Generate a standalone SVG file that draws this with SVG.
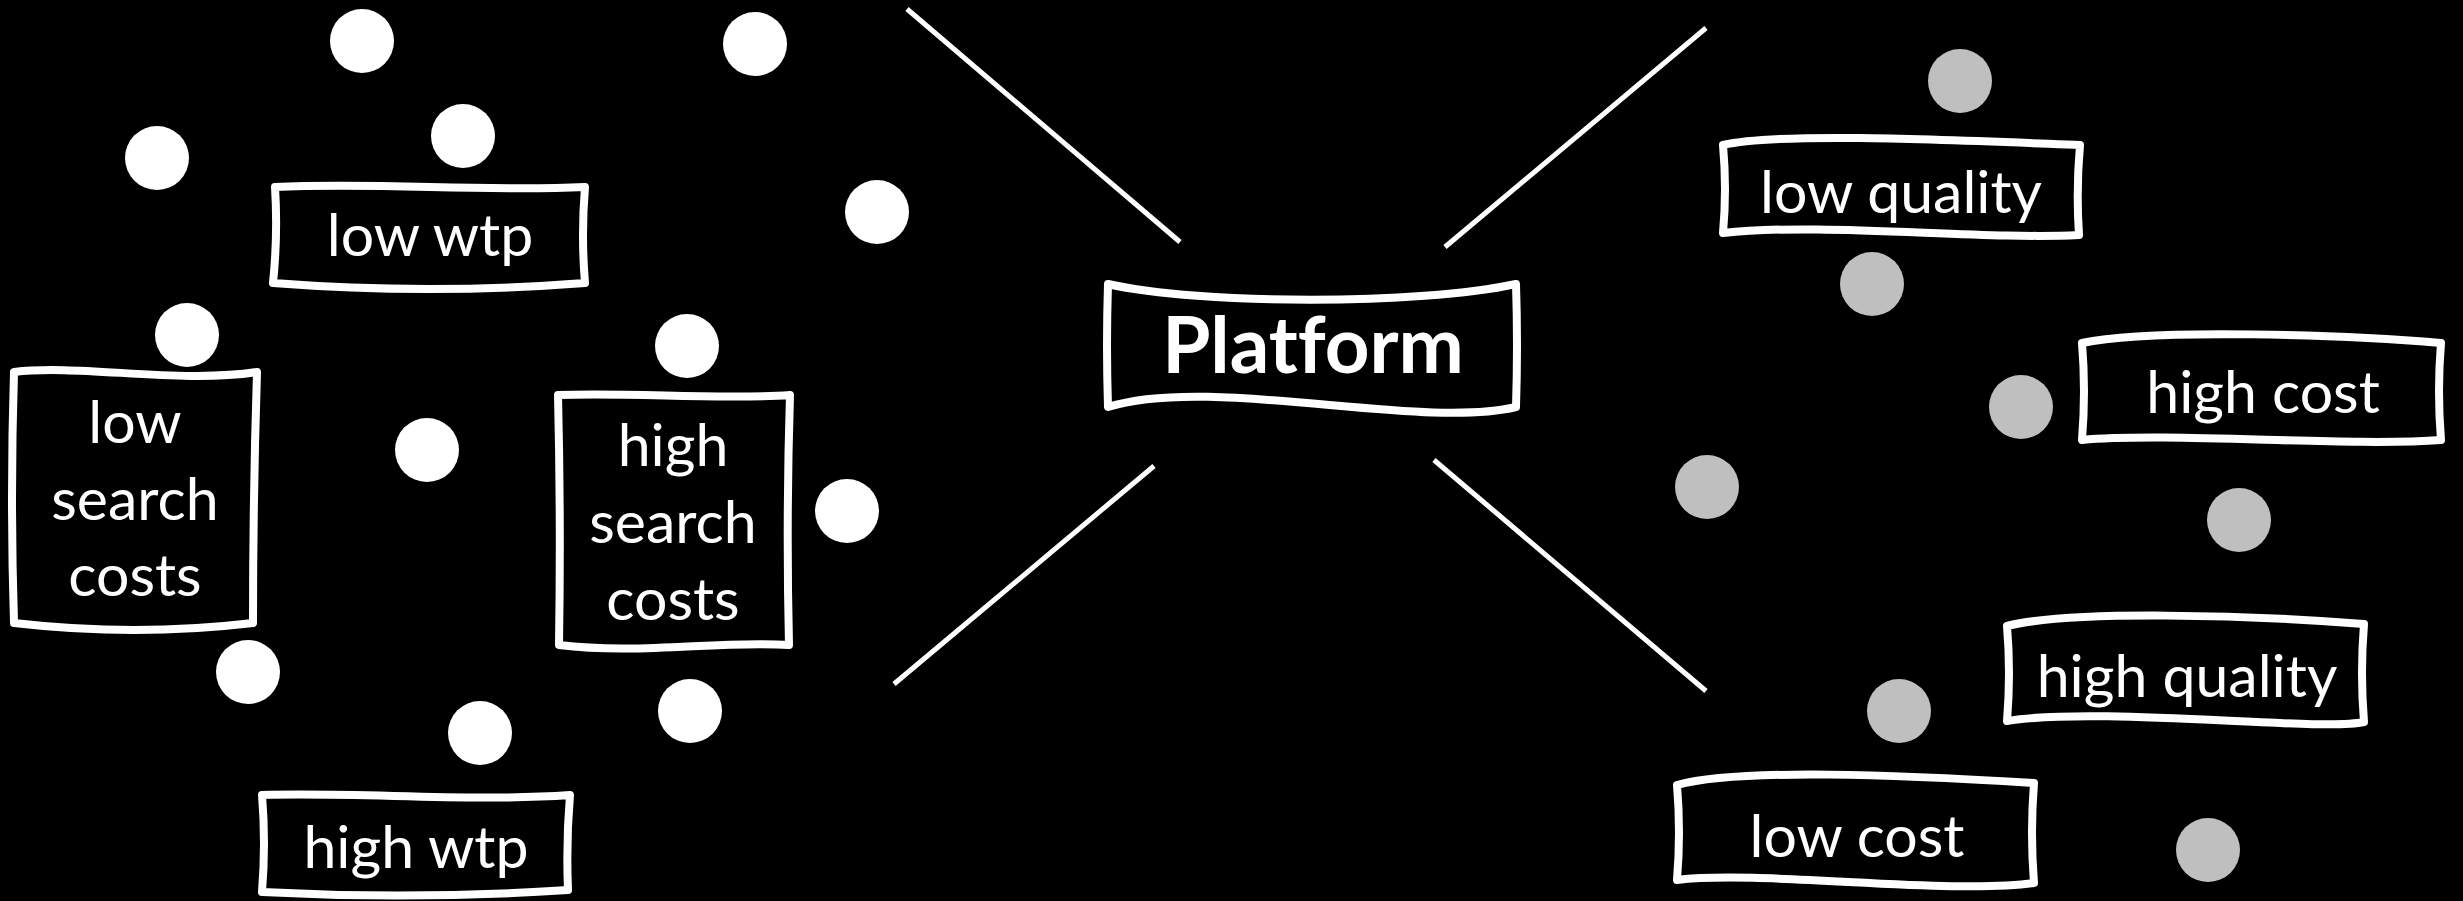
<svg xmlns="http://www.w3.org/2000/svg" width="2463" height="901" viewBox="0 0 2463 901">
<style>
.bg{fill:#000}
.box{fill:#000;stroke:#fff;stroke-width:8;stroke-linejoin:round}
.lbl{fill:#fff;font-family:Lato,"Open Sans","Liberation Sans",sans-serif;font-size:59px;text-anchor:middle;font-variant-ligatures:none}
.title{fill:#fff;font-family:Lato,"Open Sans","Liberation Sans",sans-serif;font-size:78px;font-weight:700;text-anchor:middle;font-variant-ligatures:none;font-feature-settings:"liga" 0,"dlig" 0}
.w{fill:#fff}
.g{fill:#bfbfbf}
.con{stroke:#fff;stroke-width:5;fill:none}
</style>
<rect class="bg" x="0" y="0" width="2463" height="901"/>
<g id="connectors">
<line class="con" x1="907" y1="9" x2="1180" y2="242"/>
<line class="con" x1="1706" y1="28" x2="1445" y2="247"/>
<line class="con" x1="1154" y1="466" x2="894" y2="684"/>
<line class="con" x1="1434" y1="460" x2="1706" y2="691"/>
</g>
<g id="platform">
<path class="box" d="M1108,284 C1200,305 1420,305 1516,284 Q1518,345 1516,407 C1420,430 1210,375 1108,407 Q1106,345 1108,284 Z"/>
<text class="title" x="1313" y="373">Platform</text>
</g>
<g id="low-wtp">
<path class="box" d="M275,187 C380,182 480,192 585,187 Q581,235 585,283 Q429,295 273,283 Q278,235 275,187 Z"/>
<text class="lbl" x="430" y="256">low wtp</text>
</g>
<g id="low-search-costs">
<path class="box" d="M14,372 C80,364 180,384 257,372 Q253,498 253,623 Q135,637 14,623 Q10,498 14,372 Z"/>
<text class="lbl" x="135" y="443">low</text>
<text class="lbl" x="135" y="520">search</text>
<text class="lbl" x="135" y="596">costs</text>
</g>
<g id="high-search-costs">
<path class="box" d="M558,395 C630,392 720,400 790,395 Q786,520 789,645 C720,640 640,655 559,645 Q561,520 558,395 Z"/>
<text class="lbl" x="673" y="466">high</text>
<text class="lbl" x="673" y="543">search</text>
<text class="lbl" x="673" y="620">costs</text>
</g>
<g id="high-wtp">
<path class="box" d="M262,795 C360,792 470,802 570,795 Q566,842 568,890 Q415,900 262,892 Q266,843 262,795 Z"/>
<text class="lbl" x="416" y="868">high wtp</text>
</g>
<g id="low-quality">
<path class="box" d="M1723,145 C1780,132 1950,140 2080,145 Q2076,190 2079,235 C1980,240 1820,222 1723,233 Q1727,189 1723,145 Z"/>
<text class="lbl" x="1901" y="213">low quality</text>
</g>
<g id="high-cost">
<path class="box" d="M2082,343 C2150,328 2350,335 2441,343 Q2437,391 2441,440 C2350,447 2170,432 2082,440 Q2086,391 2082,343 Z"/>
<text class="lbl" x="2263" y="413">high cost</text>
</g>
<g id="high-quality">
<path class="box" d="M2007,626 C2070,610 2250,615 2364,624 Q2360,673 2364,722 C2320,732 2100,706 2007,721 Q2011,673 2007,626 Z"/>
<text class="lbl" x="2187" y="697">high quality</text>
</g>
<g id="low-cost">
<path class="box" d="M1677,785 C1740,768 1900,775 2034,783 Q2030,833 2034,883 C1950,895 1760,870 1677,880 Q1681,832 1677,785 Z"/>
<text class="lbl" x="1857" y="857">low cost</text>
</g>
<g id="dot-w1"><circle class="w" cx="362" cy="41" r="32"/></g>
<g id="dot-w2"><circle class="w" cx="755" cy="44" r="32"/></g>
<g id="dot-w3"><circle class="w" cx="157" cy="158" r="32"/></g>
<g id="dot-w4"><circle class="w" cx="463" cy="136" r="32"/></g>
<g id="dot-w5"><circle class="w" cx="877" cy="212" r="32"/></g>
<g id="dot-w6"><circle class="w" cx="187" cy="335" r="32"/></g>
<g id="dot-w7"><circle class="w" cx="687" cy="346" r="32"/></g>
<g id="dot-w8"><circle class="w" cx="427" cy="450" r="32"/></g>
<g id="dot-w9"><circle class="w" cx="847" cy="511" r="32"/></g>
<g id="dot-w10"><circle class="w" cx="248" cy="672" r="32"/></g>
<g id="dot-w11"><circle class="w" cx="480" cy="733" r="32"/></g>
<g id="dot-w12"><circle class="w" cx="690" cy="711" r="32"/></g>
<g id="dot-g1"><circle class="g" cx="1960" cy="81" r="32"/></g>
<g id="dot-g2"><circle class="g" cx="1872" cy="284" r="32"/></g>
<g id="dot-g3"><circle class="g" cx="2021" cy="407" r="32"/></g>
<g id="dot-g4"><circle class="g" cx="1707" cy="487" r="32"/></g>
<g id="dot-g5"><circle class="g" cx="2239" cy="520" r="32"/></g>
<g id="dot-g6"><circle class="g" cx="1899" cy="711" r="32"/></g>
<g id="dot-g7"><circle class="g" cx="2208" cy="850" r="32"/></g>
</svg>
